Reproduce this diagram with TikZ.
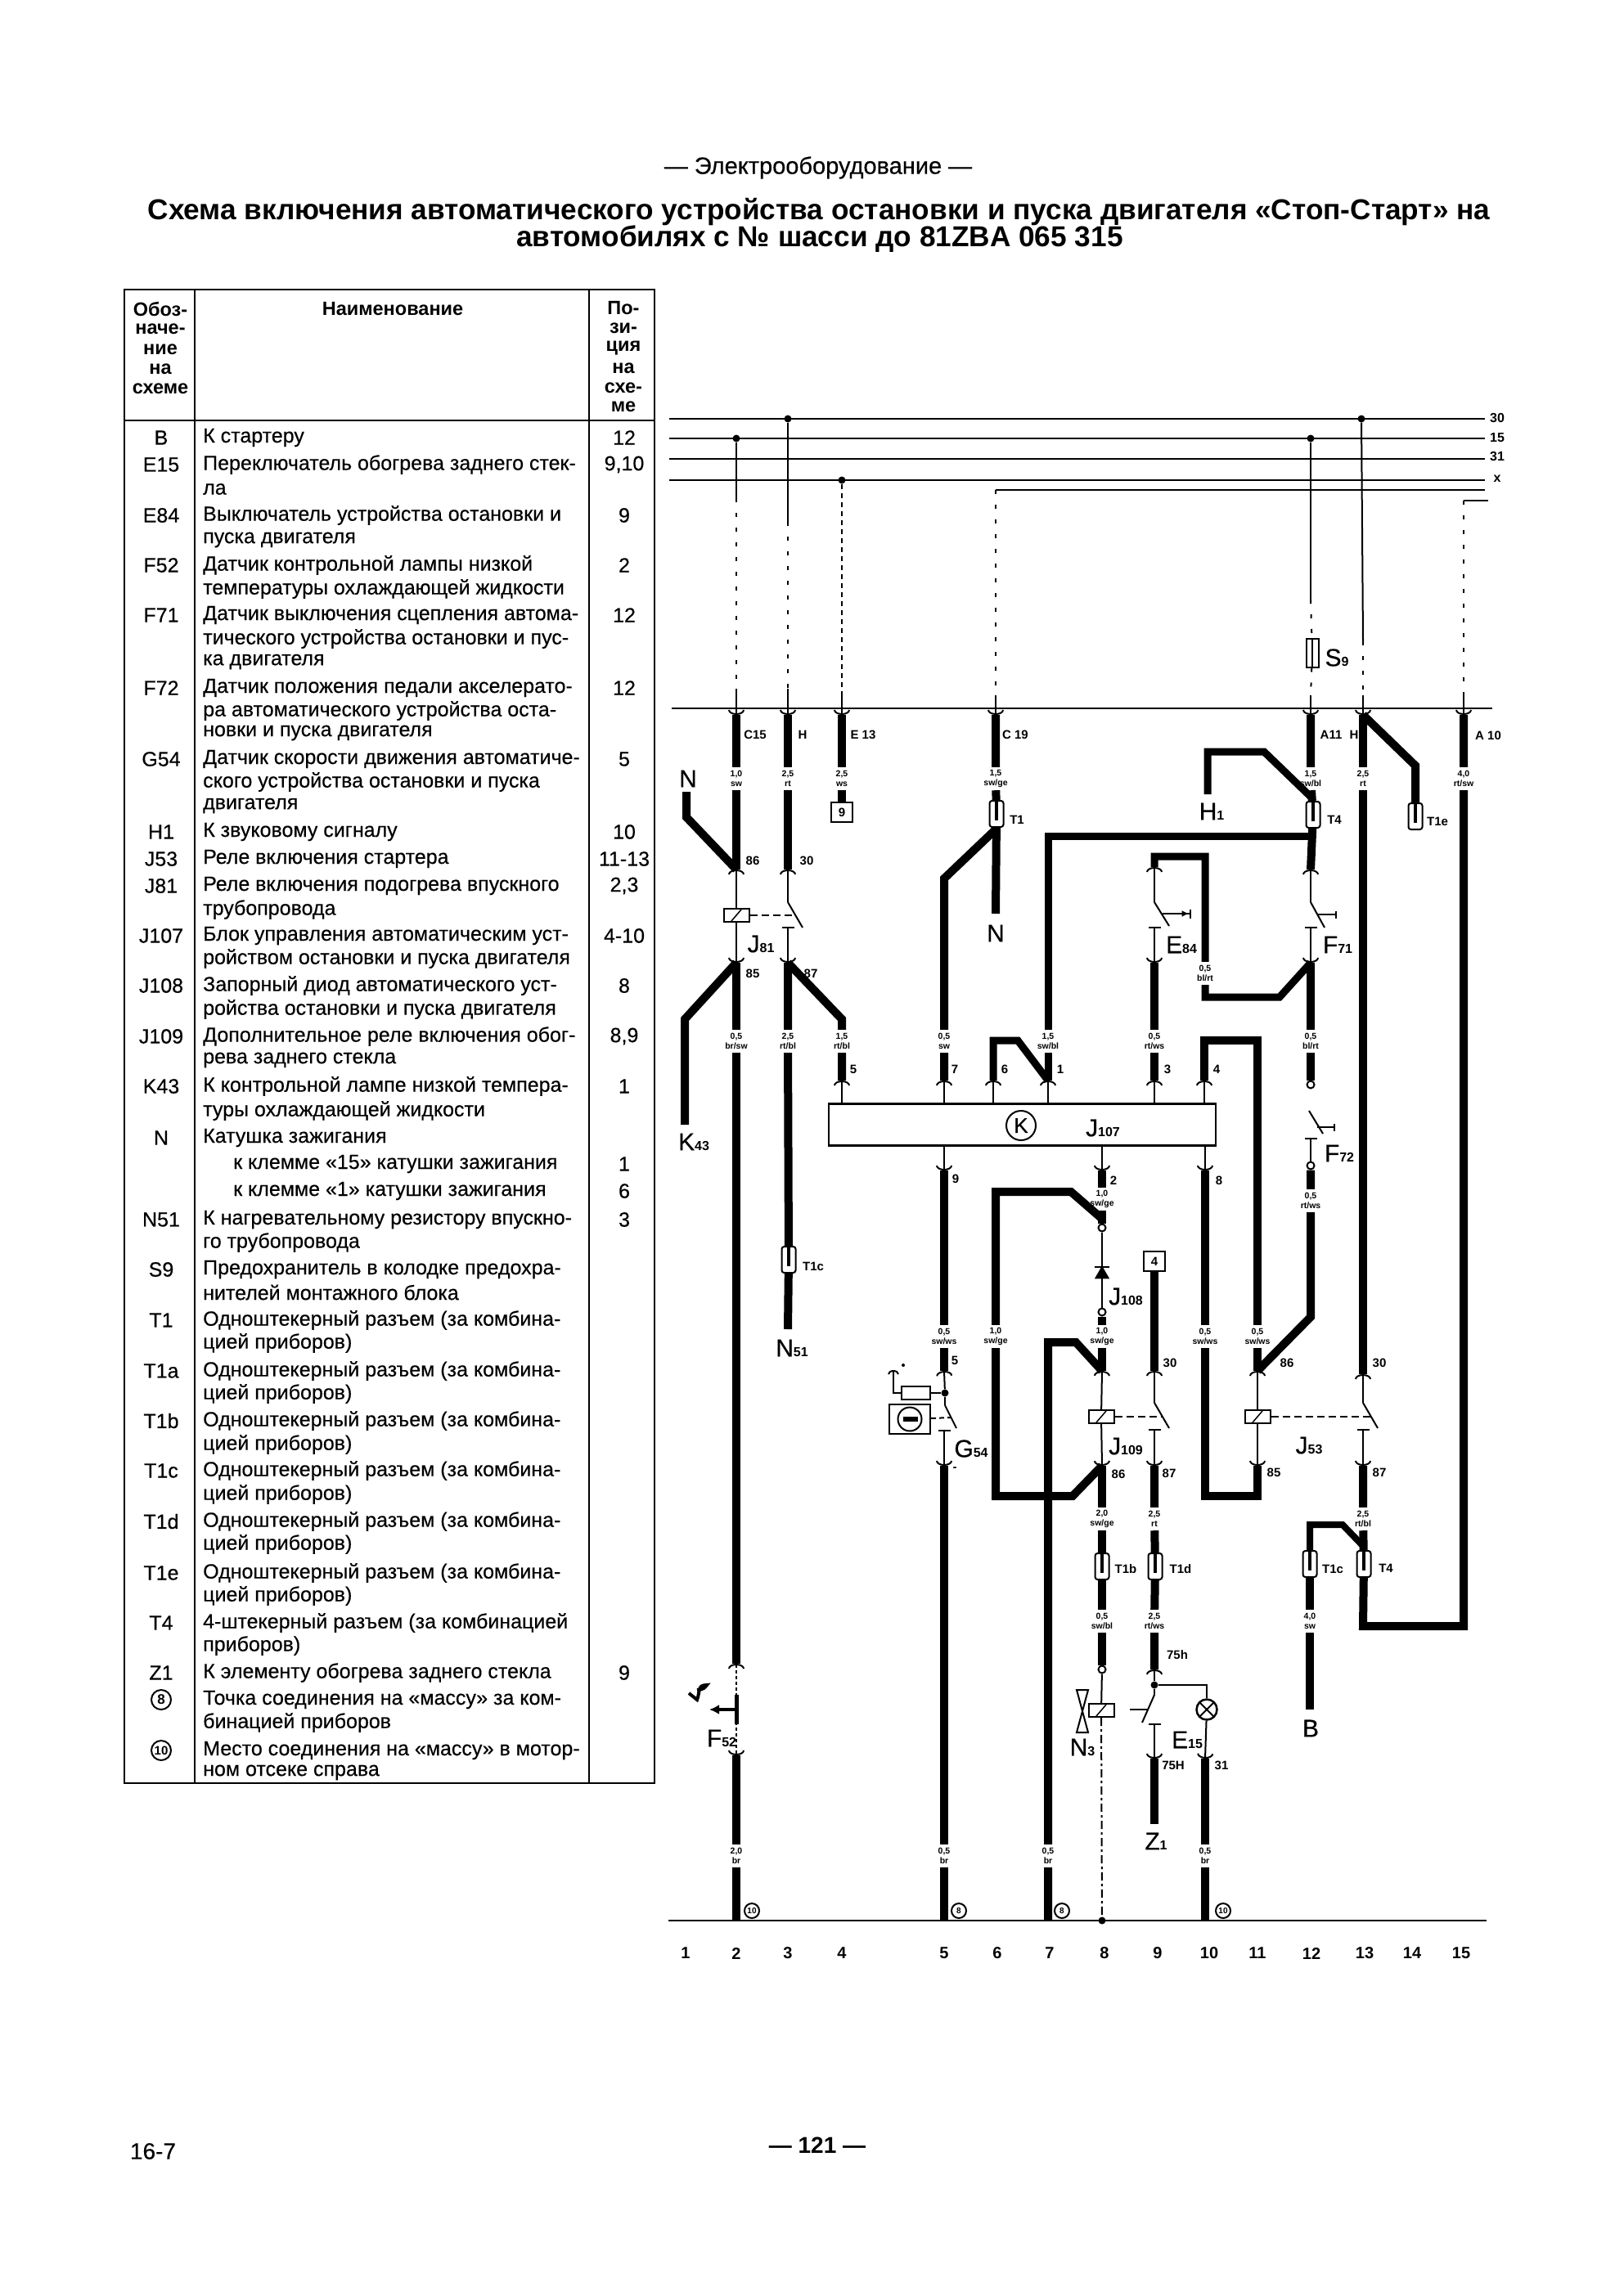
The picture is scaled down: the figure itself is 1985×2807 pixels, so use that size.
\documentclass[tikz,border=0pt]{standalone}
\usepackage{fontspec}
\setmainfont{Liberation Sans}
\newfontfamily\medfont{Liberation Sans}[FakeBold=0.35]
\usetikzlibrary{calc, arrows.meta, shapes.geometric, positioning}
\newcommand{\lab}[2]{{\medfont\fontsize{30}{30}\selectfont #1}{\bfseries\fontsize{16}{16}\selectfont #2}}
\tikzset{
	x=1pt, y=-1pt,
	railw/.style={line width=2.5pt},
	thickw/.style={line width=10pt},
	thinw/.style={line width=2pt},
	feedw/.style={line width=2pt, dash pattern=on 5pt off 13pt},
	pinw/.style={line width=2pt, -{Arc Barb[length=6pt,width=20pt]}},
	link/.style={line width=2pt, dash pattern=on 9pt off 5pt},
	act/.style={line width=2.5pt, -{Bar[width=9pt]}},
	gauge/.style={fill=white, inner sep=0pt, minimum width=14pt, minimum height=28pt, align=center, font=\bfseries\fontsize{10.5}{12}\selectfont},
	jdot/.style={circle, fill, inner sep=0pt, minimum size=9pt},
	ball/.style={circle, draw, fill=white, line width=2pt, inner sep=0pt, minimum size=9pt},
	contact/.style={fill, inner sep=0pt, minimum width=15pt, minimum height=2.5pt},
	relay/.style={draw, fill=white, line width=2pt, inner sep=0pt, minimum width=31pt, minimum height=16pt, path picture={\draw[line width=1.5pt] ($(path picture bounding box.center)+(-6pt,-7pt)$) -- ($(path picture bounding box.center)+(6pt,7pt)$);}},
	conn/.style={draw, fill=white, line width=2pt, rounded corners=3pt, inner sep=0pt, minimum width=17pt, minimum height=32pt, path picture={\draw[line width=3.5pt] ($(path picture bounding box.center)+(0pt,-8pt)$) -- ($(path picture bounding box.center)+(0pt,16pt)$);}},
	tagbox/.style={draw, fill=white, line width=2.5pt, inner sep=0pt, minimum width=26pt, minimum height=24pt, font=\bfseries\fontsize{15}{15}\selectfont},
	big/.style={inner sep=0pt},
	pinlab/.style={inner sep=0pt, font=\bfseries\fontsize{15}{15}\selectfont},
	collab/.style={inner sep=0pt, font=\bfseries\fontsize{20}{20}\selectfont},
	gnd/.style={circle, draw, line width=2pt, inner sep=0pt, minimum size=18pt, font=\bfseries\fontsize{10}{10}\selectfont},
	rowtext/.style={anchor=west, inner sep=0pt, font=\medfont\fontsize{25}{25}\selectfont},
	rowtag/.style={inner sep=0pt, font=\medfont\fontsize{25}{25}\selectfont},
	headtext/.style={inner sep=0pt, font=\bfseries\fontsize{23.5}{24}\selectfont},
	titletext/.style={inner sep=0pt, font=\bfseries\fontsize{35.2}{35}\selectfont}
}

\begin{document}
\begin{tikzpicture}
	\useasboundingbox[fill=white] (0,0) rectangle (1985,2807);

	% page texts
	\node (sect) [inner sep=0pt, font=\medfont\fontsize{29}{29}\selectfont] at (1000,205) {— Электрооборудование —};
	\node (title1) [titletext] at (1001,259) {Схема включения автоматического устройства остановки и пуска двигателя «Стоп-Старт» на};
	\node (title2) [titletext] at (1002,292) {автомобилях с № шасси до 81ZBA 065 315};
	\node (pg) [inner sep=0pt, font=\medfont\fontsize{28}{28}\selectfont] at (187,2630) {16-7};
	\node (pnum) [inner sep=0pt, font=\bfseries\fontsize{28}{28}\selectfont] at (999,2623) {— 121 —};

	% table
	\coordinate (tnw) at (152,354);
	\coordinate (tse) at (800,2180);
	\coordinate (ta) at (238,354);
	\coordinate (tb) at (720,354);
	\coordinate (tc) at (152,514);
	\draw[line width=2.5pt] (tnw) rectangle (tse);
	\draw[line width=2.5pt] (ta) -- (ta |- tse);
	\draw[line width=2.5pt] (tb) -- (tb |- tse);
	\draw[line width=2.5pt] (tc) -- (tc -| tse);

	\node (h1a) [headtext] at (196,378) {Обоз-};
	\node (h1b) [headtext] at (196,402) {наче-};
	\node (h1c) [headtext] at (196,427) {ние};
	\node (h1d) [headtext] at (196,451) {на};
	\node (h1e) [headtext] at (196,475) {схеме};
	\node (h2) [headtext] at (480,378) {Наименование};
	\node (h3a) [headtext] at (762,377) {По-};
	\node (h3b) [headtext] at (762,401) {зи-};
	\node (h3c) [headtext] at (762,426) {ция};
	\node (h3d) [headtext] at (762,450) {на};
	\node (h3e) [headtext] at (762,474) {схе-};
	\node (h3f) [headtext] at (762,497) {ме};

	\node (ta1) [rowtag] at (197,535) {B};
	\node (ta2) [rowtag] at (197,568) {E15};
	\node (ta3) [rowtag] at (197,630) {E84};
	\node (ta4) [rowtag] at (197,691) {F52};
	\node (ta5) [rowtag] at (197,752) {F71};
	\node (ta6) [rowtag] at (197,841) {F72};
	\node (ta7) [rowtag] at (197,928) {G54};
	\node (ta8) [rowtag] at (197,1017) {H1};
	\node (ta9) [rowtag] at (197,1050) {J53};
	\node (ta10) [rowtag] at (197,1083) {J81};
	\node (ta11) [rowtag] at (197,1144) {J107};
	\node (ta12) [rowtag] at (197,1205) {J108};
	\node (ta13) [rowtag] at (197,1267) {J109};
	\node (ta14) [rowtag] at (197,1328) {K43};
	\node (ta15) [rowtag] at (197,1391) {N};
	\node (ta16) [rowtag] at (197,1491) {N51};
	\node (ta17) [rowtag] at (197,1552) {S9};
	\node (ta18) [rowtag] at (197,1614) {T1};
	\node (ta19) [rowtag] at (197,1676) {T1a};
	\node (ta20) [rowtag] at (197,1737) {T1b};
	\node (ta21) [rowtag] at (197,1798) {T1c};
	\node (ta22) [rowtag] at (197,1860) {T1d};
	\node (ta23) [rowtag] at (197,1923) {T1e};
	\node (ta24) [rowtag] at (197,1984) {T4};
	\node (ta25) [rowtag] at (197,2045) {Z1};
	\node (ta26) [gnd, minimum size=24pt, font=\bfseries\fontsize{17}{17}\selectfont] at (197,2078) {8};
	\node (ta27) [gnd, minimum size=24pt, font=\bfseries\fontsize{15}{15}\selectfont] at (197,2140) {10};

	\node (tx1) [rowtext] at (248,535) {К стартеру};
	\node (tx2) [rowtext] at (248,568) {Переключатель обогрева заднего стек-};
	\node (tx2b) [rowtext] at (248,598) {ла};
	\node (tx3) [rowtext] at (248,630) {Выключатель устройства остановки и};
	\node (tx3b) [rowtext] at (248,660) {пуска двигателя};
	\node (tx4) [rowtext] at (248,691) {Датчик контрольной лампы низкой};
	\node (tx4b) [rowtext] at (248,720) {температуры охлаждающей жидкости};
	\node (tx5) [rowtext] at (248,752) {Датчик выключения сцепления автома-};
	\node (tx5b) [rowtext] at (248,781) {тического устройства остановки и пус-};
	\node (tx5c) [rowtext] at (248,809) {ка двигателя};
	\node (tx6) [rowtext] at (248,841) {Датчик положения педали акселерато-};
	\node (tx6b) [rowtext] at (248,869) {ра автоматического устройства оста-};
	\node (tx6c) [rowtext] at (248,896) {новки и пуска двигателя};
	\node (tx7) [rowtext] at (248,928) {Датчик скорости движения автоматиче-};
	\node (tx7b) [rowtext] at (248,956) {ского устройства остановки и пуска};
	\node (tx7c) [rowtext] at (248,985) {двигателя};
	\node (tx8) [rowtext] at (248,1017) {К звуковому сигналу};
	\node (tx9) [rowtext] at (248,1050) {Реле включения стартера};
	\node (tx10) [rowtext] at (248,1083) {Реле включения подогрева впускного};
	\node (tx10b) [rowtext] at (248,1112) {трубопровода};
	\node (tx11) [rowtext] at (248,1144) {Блок управления автоматическим уст-};
	\node (tx11b) [rowtext] at (248,1172) {ройством остановки и пуска двигателя};
	\node (tx12) [rowtext] at (248,1205) {Запорный диод автоматического уст-};
	\node (tx12b) [rowtext] at (248,1234) {ройства остановки и пуска двигателя};
	\node (tx13) [rowtext] at (248,1267) {Дополнительное реле включения обог-};
	\node (tx13b) [rowtext] at (248,1296) {рева заднего стекла};
	\node (tx14) [rowtext] at (248,1328) {К контрольной лампе низкой темпера-};
	\node (tx14b) [rowtext] at (248,1358) {туры охлаждающей жидкости};
	\node (tx15) [rowtext] at (248,1391) {Катушка зажигания};
	\node (tx15b) [rowtext] at (285,1423) {к клемме «15» катушки зажигания};
	\node (tx15c) [rowtext] at (285,1456) {к клемме «1» катушки зажигания};
	\node (tx16) [rowtext] at (248,1491) {К нагревательному резистору впускно-};
	\node (tx16b) [rowtext] at (248,1519) {го трубопровода};
	\node (tx17) [rowtext] at (248,1552) {Предохранитель в колодке предохра-};
	\node (tx17b) [rowtext] at (248,1580) {нителей монтажного блока};
	\node (tx18) [rowtext] at (248,1614) {Одноштекерный разъем (за комбина-};
	\node (tx18b) [rowtext] at (248,1642) {цией приборов)};
	\node (tx19) [rowtext] at (248,1676) {Одноштекерный разъем (за комбина-};
	\node (tx19b) [rowtext] at (248,1704) {цией приборов)};
	\node (tx20) [rowtext] at (248,1737) {Одноштекерный разъем (за комбина-};
	\node (tx20b) [rowtext] at (248,1766) {цией приборов)};
	\node (tx21) [rowtext] at (248,1798) {Одноштекерный разъем (за комбина-};
	\node (tx21b) [rowtext] at (248,1827) {цией приборов)};
	\node (tx22) [rowtext] at (248,1860) {Одноштекерный разъем (за комбина-};
	\node (tx22b) [rowtext] at (248,1888) {цией приборов)};
	\node (tx23) [rowtext] at (248,1923) {Одноштекерный разъем (за комбина-};
	\node (tx23b) [rowtext] at (248,1951) {цией приборов)};
	\node (tx24) [rowtext] at (248,1984) {4-штекерный разъем (за комбинацией};
	\node (tx24b) [rowtext] at (248,2012) {приборов)};
	\node (tx25) [rowtext] at (248,2045) {К элементу обогрева заднего стекла};
	\node (tx26) [rowtext] at (248,2078) {Точка соединения на «массу» за ком-};
	\node (tx26b) [rowtext] at (248,2106) {бинацией приборов};
	\node (tx27) [rowtext] at (248,2140) {Место соединения на «массу» в мотор-};
	\node (tx27b) [rowtext] at (248,2167) {ном отсеке справа};

	\node (po1) [rowtag] at (763,535) {12};
	\node (po2) [rowtag] at (763,568) {9,10};
	\node (po3) [rowtag] at (763,630) {9};
	\node (po4) [rowtag] at (763,691) {2};
	\node (po5) [rowtag] at (763,752) {12};
	\node (po6) [rowtag] at (763,841) {12};
	\node (po7) [rowtag] at (763,928) {5};
	\node (po8) [rowtag] at (763,1017) {10};
	\node (po9) [rowtag] at (763,1050) {11-13};
	\node (po10) [rowtag] at (763,1083) {2,3};
	\node (po11) [rowtag] at (763,1144) {4-10};
	\node (po12) [rowtag] at (763,1205) {8};
	\node (po13) [rowtag] at (763,1267) {8,9};
	\node (po14) [rowtag] at (763,1328) {1};
	\node (po15) [rowtag] at (763,1423) {1};
	\node (po16) [rowtag] at (763,1456) {6};
	\node (po17) [rowtag] at (763,1491) {3};
	\node (po18) [rowtag] at (763,2045) {9};

	% rails
	\coordinate (r30a) at (818,512);
	\coordinate (r30b) at (1815,512);
	\coordinate (r15a) at (818,536);
	\coordinate (r15b) at (1815,536);
	\coordinate (r31a) at (818,561);
	\coordinate (r31b) at (1815,561);
	\coordinate (rxa) at (818,587);
	\coordinate (rxb) at (1815,587);
	\coordinate (r5a) at (1217,599);
	\coordinate (r5b) at (1815,599);
	\coordinate (r6a) at (1789,612);
	\coordinate (r6b) at (1819,612);
	\coordinate (mra) at (821,866);
	\coordinate (mrb) at (1824,866);
	\coordinate (bra) at (817,2348);
	\coordinate (brb) at (1817,2348);
	\draw[railw] (r30a) -- (r30b);
	\draw[railw] (r15a) -- (r15b);
	\draw[railw] (r31a) -- (r31b);
	\draw[railw] (rxa) -- (rxb);
	\draw[railw] (r5a) -- (r5b);
	\draw[railw] (r6a) -- (r6b);
	\draw[railw] (mra) -- (mrb);
	\draw[railw] (bra) -- (brb);
	\node (l30) [pinlab, font=\bfseries\fontsize{16}{16}\selectfont] at (1830,511) {30};
	\node (l15) [pinlab, font=\bfseries\fontsize{16}{16}\selectfont] at (1830,535) {15};
	\node (l31) [pinlab, font=\bfseries\fontsize{16}{16}\selectfont] at (1830,558) {31};
	\node (lx) [pinlab, font=\bfseries\fontsize{16}{16}\selectfont] at (1830,585) {x};

	\node (d15b) [jdot] at (900,536) {};
	\node (d30c) [jdot] at (963,512) {};
	\node (dxd) [jdot] at (1029,587) {};
	\node (d15l) [jdot] at (1602,536) {};
	\node (d30m) [jdot] at (1664,512) {};

	% gauge labels
	\node (g2a) [gauge] at (900,952) {1,0\\sw};
	\node (g3a) [gauge] at (963,952) {2,5\\rt};
	\node (g4a) [gauge] at (1029,952) {2,5\\ws};
	\node (g6a) [gauge] at (1217,952) {1,5\\sw/ge};
	\node (g12a) [gauge] at (1602,952) {1,5\\sw/bl};
	\node (g13a) [gauge] at (1666,952) {2,5\\rt};
	\node (g15a) [gauge] at (1789,952) {4,0\\rt/sw};
	\node (g10a) [gauge] at (1473,1190) {0,5\\bl/rt};
	\node (g2b) [gauge] at (900,1273) {0,5\\br/sw};
	\node (g3b) [gauge] at (963,1273) {2,5\\rt/bl};
	\node (g4b) [gauge] at (1029,1273) {1,5\\rt/bl};
	\node (g5a) [gauge] at (1154,1273) {0,5\\sw};
	\node (g7a) [gauge] at (1281,1273) {1,5\\sw/bl};
	\node (g9c) [gauge] at (1411,1273) {0,5\\rt/ws};
	\node (g12b) [gauge] at (1602,1273) {0,5\\bl/rt};
	\node (g72) [gauge] at (1602,1468) {0,5\\rt/ws};
	\node (g8a) [gauge] at (1347,1466) {1,0\\sw/ge};
	\node (g5b) [gauge] at (1154,1634) {0,5\\sw/ws};
	\node (g6b) [gauge] at (1217,1634) {1,0\\sw/ge};
	\node (g8b) [gauge] at (1347,1634) {1,0\\sw/ge};
	\node (g10b) [gauge] at (1473,1634) {0,5\\sw/ws};
	\node (g11a) [gauge] at (1537,1634) {0,5\\sw/ws};
	\node (g8c) [gauge] at (1347,1857) {2,0\\sw/ge};
	\node (g9a) [gauge] at (1411,1857) {2,5\\rt};
	\node (g13b) [gauge] at (1666,1857) {2,5\\rt/bl};
	\node (g8d) [gauge] at (1347,1982) {0,5\\sw/bl};
	\node (g9b) [gauge] at (1411,1982) {2,5\\rt/ws};
	\node (g12c) [gauge] at (1601,1982) {4,0\\sw};
	\node (g2c) [gauge] at (900,2269) {2,0\\br};
	\node (g5c) [gauge] at (1154,2269) {0,5\\br};
	\node (g7b) [gauge] at (1281,2269) {0,5\\br};
	\node (g10c) [gauge] at (1473,2269) {0,5\\br};

	% parts
	\node (j107) [draw, line width=2.5pt, inner sep=0pt, minimum width=473pt, minimum height=51pt] at (1249.5,1375) {};
	\node (kc) [circle, draw, line width=2pt, inner sep=0pt, minimum size=36pt, font=\medfont\fontsize{26}{26}\selectfont] at (1248,1376) {K};
	\node (j107l) [big] at (1348,1379) {\lab{J}{107}};
	\node (re81) [relay] at (900,1119) {};
	\node (re109) [relay] at (1346,1732) {};
	\node (re53) [relay] at (1537,1732) {};
	\node (ren3) [relay] at (1346,2091) {};
	\node (tag9) [tagbox] at (1029,993) {9};
	\node (tag4) [tagbox] at (1411,1542) {4};
	\node (con6) [conn] at (1218,995) {};
	\node (con12) [conn] at (1605,996) {};
	\node (con14) [conn] at (1730,998) {};
	\node (con3) [conn] at (964,1540) {};
	\node (con8) [conn] at (1347,1915) {};
	\node (con9) [conn] at (1412,1915) {};
	\node (con12c) [conn] at (1601,1912) {};
	\node (con13) [conn] at (1667,1912) {};
	\node (fuse9) [draw, fill=white, line width=2pt, inner sep=0pt, minimum width=15pt, minimum height=35pt, path picture={\draw[line width=1.5pt] (path picture bounding box.north) -- (path picture bounding box.south);}] at (1604,798) {};
	\node (k3) [contact] at (963,1134) {};
	\node (k5) [contact] at (1154,1749) {};
	\node (k9a) [contact] at (1411,1748) {};
	\node (k9b) [contact] at (1411,2108) {};
	\node (k13) [contact] at (1666,1748) {};
	\node (k84) [contact] at (1411,1134) {};
	\node (k71) [contact] at (1602,1134) {};
	\node (k72) [contact] at (1602,1392) {};
	\node (b12) [ball] at (1602,1326) {};
	\node (b72) [ball] at (1602,1425) {};
	\node (b8a) [ball] at (1347,1501) {};
	\node (b8b) [ball] at (1347,1604) {};
	\node (b8c) [ball] at (1347,2041) {};
	\node (dio) [regular polygon, regular polygon sides=3, fill, inner sep=0pt, minimum size=21pt] at (1347,1558) {};
	\node (diob) [contact, minimum width=18pt] at (1347,1549) {};
	\node (d5) [jdot] at (1155,1703) {};
	\node (d9) [jdot] at (1411,2060) {};
	\node (d8) [jdot] at (1347,2348) {};
	\node (lamp) [circle, draw, fill=white, line width=2.5pt, inner sep=0pt, minimum size=25pt, path picture={\draw[line width=2pt] (path picture bounding box.north west) -- (path picture bounding box.south east) (path picture bounding box.north east) -- (path picture bounding box.south west);}] at (1475,2090) {};
	\node (grect) [draw, fill=white, line width=2pt, inner sep=0pt, minimum width=35pt, minimum height=16pt] at (1119,1703) {};
	\node (gbox) [draw, fill=white, line width=2pt, inner sep=0pt, minimum width=50pt, minimum height=36pt] at (1112,1735) {};
	\node (gcirc) [circle, draw, line width=2pt, inner sep=0pt, minimum size=29pt, path picture={\fill ($(path picture bounding box.center)+(-8pt,-3pt)$) rectangle ($(path picture bounding box.center)+(10pt,3pt)$);}] at (1112,1735) {};

	% thin wires
	\coordinate (f2a) at (900,609);
	\coordinate (f2b) at (900,842);
	\coordinate (m2) at (900,874);
	\coordinate (f3a) at (963,638);
	\coordinate (f3b) at (963,842);
	\coordinate (m3) at (963,874);
	\coordinate (f4b) at (1029,850);
	\coordinate (m4) at (1029,874);
	\coordinate (f6b) at (1217,850);
	\coordinate (m6) at (1217,874);
	\coordinate (f12a) at (1602,733);
	\coordinate (f12b) at (1602,850);
	\coordinate (m12) at (1602,874);
	\coordinate (f13a) at (1666,784);
	\coordinate (f13b) at (1666,850);
	\coordinate (m13) at (1666,874);
	\coordinate (f15b) at (1789,850);
	\coordinate (m15) at (1789,874);
	\draw[thinw] (d15b) -- (f2a);
	\draw[feedw] (f2a) -- (f2b);
	\draw[pinw] (f2b) -- (m2);
	\draw[thinw] (d30c) -- (f3a);
	\draw[feedw] (f3a) -- (f3b);
	\draw[pinw] (f3b) -- (m3);
	\draw[feedw, dash pattern=on 6pt off 5pt] (dxd) -- (f4b);
	\draw[pinw] (f4b) -- (m4);
	\draw[feedw] (r5a) -- (f6b);
	\draw[pinw] (f6b) -- (m6);
	\draw[thinw] (d15l) -- (f12a);
	\draw[feedw] (f12a) -- (fuse9);
	\draw[feedw] (fuse9) -- (f12b);
	\draw[pinw] (f12b) -- (m12);
	\draw[thinw] (d30m) -- (f13a);
	\draw[feedw] (f13a) -- (f13b);
	\draw[pinw] (f13b) -- (m13);
	\draw[feedw] (r6a) -- (f15b);
	\draw[pinw] (f15b) -- (m15);

	% fork tips
	\coordinate (t2a) at (900,1063);
	\coordinate (t2b) at (900,1177);
	\coordinate (t2c) at (900,2034);
	\coordinate (t2d) at (900,2146);
	\coordinate (t3a) at (963,1063);
	\coordinate (t3b) at (963,1177);
	\coordinate (p5b) at (1029,1321);
	\coordinate (p7) at (1154,1321);
	\coordinate (p6) at (1214,1321);
	\coordinate (p1) at (1281,1321);
	\coordinate (p3) at (1411,1321);
	\coordinate (p4) at (1472,1321);
	\coordinate (p9) at (1154,1431);
	\coordinate (p2) at (1347,1431);
	\coordinate (p8) at (1473,1431);
	\coordinate (t5a) at (1154,1676);
	\coordinate (t5b) at (1154,1792);
	\coordinate (t8b) at (1347,1676);
	\coordinate (t8c) at (1347,1792);
	\coordinate (t9a) at (1411,1676);
	\coordinate (t9b) at (1411,1792);
	\coordinate (t9c) at (1411,2041);
	\coordinate (t9d) at (1411,2150);
	\coordinate (t9e) at (1411,1177);
	\coordinate (t84) at (1411,1060);
	\coordinate (t10c) at (1473,2150);
	\coordinate (t11a) at (1537,1676);
	\coordinate (t11b) at (1537,1792);
	\coordinate (t12a) at (1602,1063);
	\coordinate (t12b) at (1602,1177);
	\coordinate (t13a) at (1666,1680);
	\coordinate (t13b) at (1666,1792);

	% switch pivots
	\coordinate (s3) at (963,1103);
	\coordinate (s3e) at (981,1134);
	\coordinate (s84) at (1411,1103);
	\coordinate (s84e) at (1429,1132);
	\coordinate (s84m) at (1421,1117);
	\coordinate (s84r) at (1456,1117);
	\coordinate (s71) at (1602,1103);
	\coordinate (s71e) at (1619,1134);
	\coordinate (s71m) at (1611,1118);
	\coordinate (s71r) at (1634,1118);
	\coordinate (s72) at (1600,1358);
	\coordinate (s72e) at (1617,1386);
	\coordinate (s72m) at (1610,1378);
	\coordinate (s72r) at (1632,1378);
	\coordinate (s5) at (1155,1718);
	\coordinate (s5e) at (1169,1746);
	\coordinate (s5m) at (1162,1733);
	\coordinate (s9b) at (1411,1715);
	\coordinate (s9e) at (1429,1746);
	\coordinate (s9m) at (1420,1732);
	\coordinate (s13) at (1666,1715);
	\coordinate (s13e) at (1684,1746);
	\coordinate (s13m) at (1675,1732);
	\coordinate (s3m) at (972,1119);
	\coordinate (s15) at (1411,2072);
	\coordinate (s15e) at (1396,2106);
	\coordinate (s15m) at (1403,2090);
	\coordinate (s15l) at (1381,2090);

	\draw[pinw] (re81) -- (t2a);
	\draw[pinw] (re81) -- (t2b);
	\draw[pinw] (s3) -- (t3a);
	\draw[pinw] (k3) -- (t3b);
	\draw[thinw] (s3) -- (s3e);
	\draw[link] (re81) -- (s3m);
	\draw[pinw] (s84) -- (t84);
	\draw[pinw] (k84) -- (t9e);
	\draw[thinw] (s84) -- (s84e);
	\draw[line width=2.5pt, -{Latex[length=9pt,width=8pt]Bar[width=11pt]}] (s84m) -- (s84r);
	\draw[pinw] (s71) -- (t12a);
	\draw[pinw] (k71) -- (t12b);
	\draw[thinw] (s71) -- (s71e);
	\draw[act] (s71m) -- (s71r);
	\draw[thinw] (s72) -- (s72e);
	\draw[act] (s72m) -- (s72r);
	\draw[thinw] (k72) -- (b72);
	\draw[pinw] (d5) -- (t5a);
	\draw[thinw] (d5) -- (s5);
	\draw[thinw] (s5) -- (s5e);
	\draw[pinw] (k5) -- (t5b);
	\draw[link, dash pattern=on 6pt off 4pt] (gbox) -- (s5m);
	\draw[thinw] (grect) -- (d5);
	\coordinate (gup) at (1092,1675);
	\coordinate (gel) at (1092,1690);
	\draw[thinw] (grect.west) -| (gel);
	\draw[pinw, -{Arc Barb[length=5pt,width=14pt]}] (gel) -- (gup);
	\node (gdot) [circle, fill, inner sep=0pt, minimum size=4pt] at (1104,1669) {};
	\draw[thinw] (b8a) -- (diob);
	\draw[thinw] (dio) -- (b8b);
	\draw[pinw] (re109) -- (t8b);
	\draw[pinw] (re109) -- (t8c);
	\draw[thinw] (b8c) -- (ren3);
	\draw[thinw, dash pattern=on 10pt off 4pt on 3pt off 4pt] (ren3) -- (d8);
	\draw[pinw] (s9b) -- (t9a);
	\draw[thinw] (s9b) -- (s9e);
	\draw[link] (re109) -- (s9m);
	\draw[pinw] (k9a) -- (t9b);
	\draw[pinw] (d9) -- (t9c);
	\draw[thinw] (d9) -- (s15);
	\draw[thinw] (s15) -- (s15e);
	\draw[line width=2.5pt] (s15l) -- (s15m);
	\draw[pinw] (k9b) -- (t9d);
	\draw[thinw] (d9) -| (lamp);
	\draw[pinw] (lamp) -- (t10c);
	\draw[pinw] (re53) -- (t11a);
	\draw[pinw] (re53) -- (t11b);
	\draw[link] (re53) -- (s13m);
	\draw[pinw] (s13) -- (t13a);
	\draw[thinw] (s13) -- (s13e);
	\draw[pinw] (k13) -- (t13b);
	\draw[pinw] (p5b |- j107.north) -- (p5b);
	\draw[pinw] (p7 |- j107.north) -- (p7);
	\draw[pinw] (p6 |- j107.north) -- (p6);
	\draw[pinw] (p1 |- j107.north) -- (p1);
	\draw[pinw] (p3 |- j107.north) -- (p3);
	\draw[pinw] (p4 |- j107.north) -- (p4);
	\draw[pinw] (p9 |- j107.south) -- (p9);
	\draw[pinw] (p2 |- j107.south) -- (p2);
	\draw[pinw] (p8 |- j107.south) -- (p8);

	% sensor F52
	\coordinate (fbt) at (900,2072);
	\coordinate (fbb) at (900,2108);
	\coordinate (fbm) at (900,2090);
	\coordinate (fba) at (867,2090);
	\draw[pinw, dash pattern=on 4pt off 3pt, {Arc Barb[length=6pt,width=20pt]}-{Arc Barb[length=6pt,width=20pt]}] (t2c) -- (t2d);
	\draw[line width=5pt] (fbt) -- (fbb);
	\draw[line width=4pt, -{Latex[length=12pt,width=12pt]}] (fbm) -- (fba);
	\draw[line width=4pt] (842,2070) -- (852,2078) .. controls (856,2068) and (852,2060) .. (864,2060) .. controls (858,2068) and (856,2064) .. (852,2066);

	% thick wires
	\draw[thickw] (m2) -- (g2a) -- (t2a);
	\coordinate (nla) at (839,968);
	\coordinate (nlb) at (839,999);
	\draw[thickw] (nla) -- (nlb) -- (t2a);
	\coordinate (kla) at (837,1246);
	\coordinate (klb) at (837,1375);
	\draw[thickw] (t2b) -- (kla) -- (klb);
	\draw[thickw] (t2b) -- (g2b) -- (t2c);
	\draw[thickw] (t2d) -- (g2c) -- (bra -| t2d);

	\draw[thickw] (m3) -- (g3a) -- (t3a);
	\coordinate (b3a) at (1029,1246);
	\draw[thickw] (t3b) -- (g3b) -- (con3);
	\coordinate (e3) at (963,1625);
	\draw[thickw] (con3) -- (e3);
	\draw[thickw] (t3b) -- (b3a) -- (g4b) -- (p5b);

	\draw[thickw] (m4) -- (g4a) -- (tag9);

	\draw[thickw] (m6) -- (g6a) -- (con6);
	\coordinate (e6) at (1217,1117);
	\coordinate (tb6) at (1217,1014);
	\coordinate (b6a) at (1154,1074);
	\draw[thickw] (con6) -- (e6);
	\draw[thickw] (tb6) -- (b6a) -- (g5a) -- (p7);

	\coordinate (b1a) at (1214,1272);
	\coordinate (b1b) at (1244,1272);
	\draw[thickw, line width=9pt] (p6) -- (b1a) -- (b1b) -- (p1);
	\coordinate (b7a) at (1281,1022);
	\coordinate (b7b) at (1602,1022);
	\draw[thickw, line width=9pt] (p1) -- (g7a) -- (b7a) -- (b7b);

	\draw[thickw] (m12) -- (g12a) -- (con12);
	\draw[thickw] (con12) -- (t12a);
	\coordinate (h1s) at (1602,974);
	\coordinate (h1p) at (1545,919);
	\coordinate (h1q) at (1476,919);
	\coordinate (h1e) at (1476,971);
	\draw[thickw, line width=9pt] (h1s) -- (h1p) -- (h1q) -- (h1e);

	\coordinate (e84a) at (1411,1047);
	\coordinate (e84b) at (1473,1047);
	\coordinate (e84c) at (1473,1219);
	\coordinate (e84d) at (1564,1219);
	\draw[thickw, line width=9pt] (t84) -- (e84a) -- (e84b) -- (g10a) -- (e84c) -- (e84d) -- (t12b);
	\draw[thickw] (p3) -- (g9c) -- (t9e);

	\coordinate (b4a) at (1472,1272);
	\coordinate (b4b) at (1537,1272);
	\draw[thickw] (p4) -- (b4a) -- (b4b) -- (g11a) -- (t11a);
	\coordinate (b11a) at (1537,1829);
	\coordinate (b10a) at (1473,1829);
	\draw[thickw] (t11b) -- (b11a) -- (b10a) -- (g10b) -- (p8);

	\draw[thickw] (t12b) -- (g12b) -- (b12);
	\coordinate (b72a) at (1602,1610);
	\draw[thickw] (b72) -- (g72) -- (b72a) -- (t11a);

	\draw[thickw] (p9) -- (g5b) -- (t5a);
	\draw[thickw] (t5b) -- (g5c) -- (bra -| t5b);

	\draw[thickw] (p2) -- (g8a) -- (b8a);
	\draw[thickw] (b8b) -- (g8b) -- (t8b);
	\draw[thickw] (t8c) -- (g8c) -- (con8);
	\draw[thickw] (con8) -- (g8d) -- (b8c);
	\coordinate (b6t) at (1347,1490);
	\coordinate (b6u) at (1309,1457);
	\coordinate (b6v) at (1217,1457);
	\coordinate (b6w) at (1217,1829);
	\coordinate (b6x) at (1311,1829);
	\draw[thickw] (b6t) -- (b6u) -- (b6v) -- (g6b) -- (b6w) -- (b6x) -- (t8c);
	\coordinate (b7c) at (1315,1641);
	\coordinate (b7d) at (1281,1641);
	\draw[thickw] (t8b) -- (b7c) -- (b7d) -- (g7b) -- (bra -| b7d);

	\draw[thickw] (tag4) -- (t9a);
	\draw[thickw] (t9b) -- (g9a) -- (con9);
	\draw[thickw] (con9) -- (g9b) -- (t9c);
	\coordinate (e9) at (1411,2230);
	\draw[thickw] (t9d) -- (e9);
	\draw[thickw] (t10c) -- (g10c) -- (bra -| t10c);

	\draw[thickw] (m13) -- (g13a) -- (t13a);
	\coordinate (t1ea) at (1730,936);
	\draw[thickw] (m13) -- (t1ea) -- (con14);
	\draw[thickw] (t13b) -- (g13b) -- (con13);
	\coordinate (b13a) at (1666,1988);
	\coordinate (b15a) at (1789,1988);
	\draw[thickw] (con13) -- (b13a) -- (b15a) -- (g15a) -- (m15);
	\coordinate (b13c) at (1666,1890);
	\coordinate (b12c) at (1641,1864);
	\coordinate (b12d) at (1601,1864);
	\coordinate (e12) at (1601,2090);
	\draw[thickw, line width=8pt] (b13c) -- (b12c) -- (b12d) -- (con12c);
	\draw[thickw] (con12c) -- (g12c) -- (e12);

	% valve N3
	\coordinate (va) at (1316,2066);
	\coordinate (vb) at (1330,2066);
	\coordinate (vc) at (1316,2118);
	\coordinate (vd) at (1330,2118);
	\draw[thinw] (va) -- (vb) -- (vc) -- (vd) -- cycle;

	% names
	\node (ln1) [big] at (841,952) {\lab{N}{}};
	\node (ln2) [big] at (1217,1141) {\lab{N}{}};
	\node (lk43) [big] at (848,1396) {\lab{K}{43}};
	\node (lj81) [big] at (930,1154) {\lab{J}{81}};
	\node (lf52) [big] at (882,2125) {\lab{F}{52}};
	\node (ln51) [big] at (968,1648) {\lab{N}{51}};
	\node (lg54) [big] at (1187,1771) {\lab{G}{54}};
	\node (lj108) [big] at (1376,1585) {\lab{J}{108}};
	\node (lj109) [big] at (1376,1768) {\lab{J}{109}};
	\node (ln3) [big] at (1323,2136) {\lab{N}{3}};
	\node (lz1) [big] at (1413,2251) {\lab{Z}{1}};
	\node (le15) [big] at (1451,2127) {\lab{E}{15}};
	\node (lb) [big] at (1602,2113) {\lab{B}{}};
	\node (lj53) [big] at (1600,1767) {\lab{J}{53}};
	\node (lf72) [big] at (1637,1410) {\lab{F}{72}};
	\node (lf71) [big] at (1635,1155) {\lab{F}{71}};
	\node (le84) [big] at (1444,1155) {\lab{E}{84}};
	\node (lh1) [big] at (1481,992) {\lab{H}{1}};
	\node (ls9) [big] at (1634,804) {\lab{S}{9}};

	\node (lc15) [pinlab] at (923,898) {C15};
	\node (lh) [pinlab] at (981,898) {H};
	\node (le13) [pinlab] at (1055,898) {E 13};
	\node (lc19) [pinlab] at (1241,898) {C 19};
	\node (la11) [pinlab] at (1627,898) {A11};
	\node (lh2) [pinlab] at (1655,898) {H};
	\node (la10) [pinlab] at (1819,899) {A 10};
	\node (lt1) [pinlab] at (1243,1002) {T1};
	\node (lt4a) [pinlab] at (1631,1002) {T4};
	\node (lt1e) [pinlab] at (1757,1004) {T1e};
	\node (lt1c) [pinlab] at (994,1548) {T1c};
	\node (lt1b) [pinlab] at (1376,1918) {T1b};
	\node (lt1d) [pinlab] at (1443,1918) {T1d};
	\node (lt1k) [pinlab] at (1629,1918) {T1c};
	\node (lt4b) [pinlab] at (1694,1917) {T4};
	\node (q86) [pinlab] at (920,1052) {86};
	\node (q30) [pinlab] at (986,1052) {30};
	\node (q85) [pinlab] at (920,1190) {85};
	\node (q87) [pinlab] at (991,1190) {87};
	\node (q5) [pinlab] at (1043,1307) {5};
	\node (q7) [pinlab] at (1167,1307) {7};
	\node (q6) [pinlab] at (1228,1307) {6};
	\node (q1) [pinlab] at (1296,1307) {1};
	\node (q3) [pinlab] at (1427,1307) {3};
	\node (q4) [pinlab] at (1487,1307) {4};
	\node (q9) [pinlab] at (1168,1441) {9};
	\node (q2) [pinlab] at (1361,1443) {2};
	\node (q8) [pinlab] at (1490,1443) {8};
	\node (q5b) [pinlab] at (1167,1663) {5};
	\node (qm) [pinlab] at (1167,1796) {-};
	\node (q86b) [pinlab] at (1367,1802) {86};
	\node (q30b) [pinlab] at (1430,1666) {30};
	\node (q87b) [pinlab] at (1429,1801) {87};
	\node (q86c) [pinlab] at (1573,1666) {86};
	\node (q85c) [pinlab] at (1557,1800) {85};
	\node (q30c) [pinlab] at (1686,1666) {30};
	\node (q87c) [pinlab] at (1686,1800) {87};
	\node (q75a) [pinlab] at (1439,2023) {75h};
	\node (q75b) [pinlab] at (1434,2158) {75H};
	\node (q31) [pinlab] at (1493,2158) {31};

	\node (e1) [gnd] at (919,2336) {10};
	\node (e2) [gnd] at (1172,2336) {8};
	\node (e3g) [gnd] at (1298,2336) {8};
	\node (e4) [gnd] at (1495,2336) {10};

	\node (n1) [collab] at (838,2388) {1};
	\node (n2) [collab] at (900,2388) {2};
	\node (n3) [collab] at (963,2388) {3};
	\node (n4) [collab] at (1029,2388) {4};
	\node (n5) [collab] at (1154,2388) {5};
	\node (n6) [collab] at (1219,2388) {6};
	\node (n7) [collab] at (1283,2388) {7};
	\node (n8) [collab] at (1350,2388) {8};
	\node (n9) [collab] at (1415,2388) {9};
	\node (n10) [collab] at (1478,2388) {10};
	\node (n11) [collab] at (1537,2388) {11};
	\node (n12) [collab] at (1603,2388) {12};
	\node (n13) [collab] at (1668,2388) {13};
	\node (n14) [collab] at (1726,2388) {14};
	\node (n15) [collab] at (1786,2388) {15};
\end{tikzpicture}
\end{document}
